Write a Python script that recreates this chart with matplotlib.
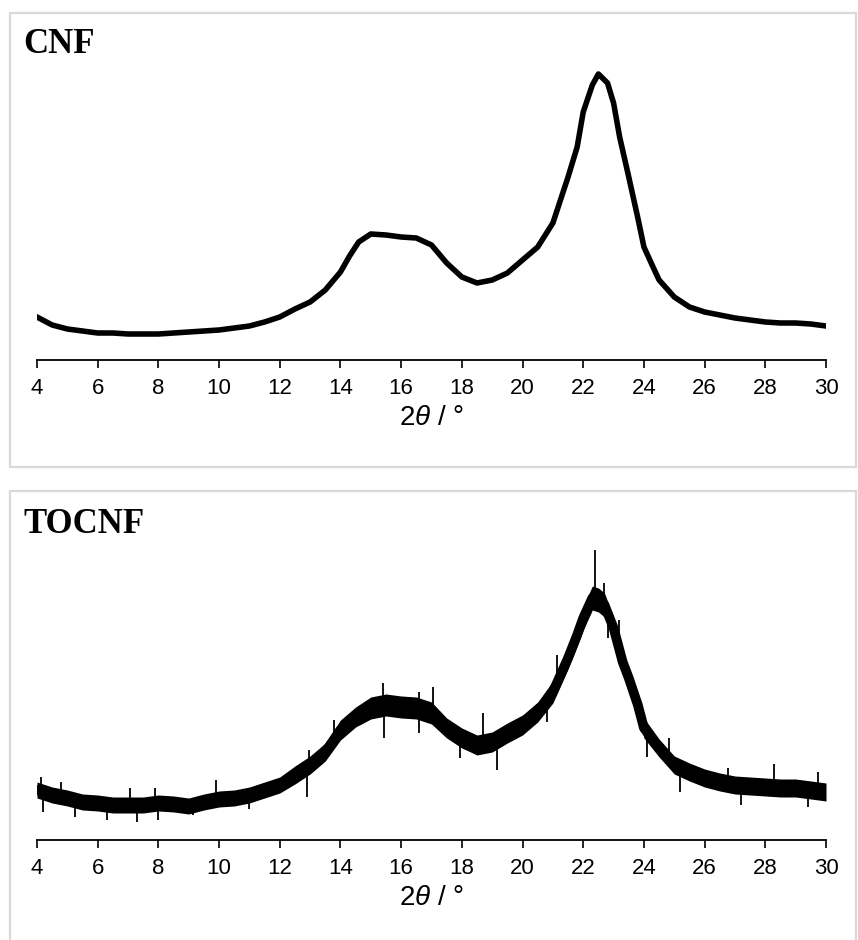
import matplotlib
matplotlib.use("Agg")
import matplotlib.pyplot as plt
from matplotlib.patches import Rectangle
import numpy as np

plt.rcParams['font.family'] = ['Liberation Sans', 'DejaVu Sans']
plt.rcParams['mathtext.fontset'] = 'custom'
plt.rcParams['mathtext.rm'] = 'Liberation Sans'
plt.rcParams['mathtext.it'] = 'Liberation Sans:italic'

# CNF pattern (intensity, arbitrary units)
cnf_2theta = [4, 4.5, 5, 5.5, 6, 6.5, 7, 7.5, 8, 8.5, 9, 9.5, 10, 10.5, 11, 11.5,
              12, 12.5, 13, 13.5, 14, 14.3, 14.6, 15, 15.5, 16, 16.5, 17, 17.5, 18, 18.5,
              19, 19.5, 20, 20.5, 21, 21.5, 21.8, 22, 22.3, 22.5, 22.8, 23, 23.2,
              23.5, 23.8, 24, 24.3, 24.5, 25, 25.5, 26, 26.5, 27, 27.5, 28, 28.5,
              29, 29.5, 30]
cnf_int = [43, 35, 31, 29, 27, 27, 26, 26, 26, 27, 28, 29, 30, 32, 34, 38,
           43, 51, 58, 70, 88, 104, 118, 126, 125, 123, 122, 115, 97, 83, 77,
           80, 87, 100, 113, 137, 183, 213, 248, 275, 286, 277, 257, 223,
           183, 142, 113, 93, 80, 63, 53, 48, 45, 42, 40, 38, 37,
           37, 36, 34]

# TOCNF pattern
tocnf_2theta = [4, 4.5, 5, 5.5, 6, 6.5, 7, 7.5, 8, 8.5, 9, 9.5, 10, 10.5, 11, 11.5,
                12, 12.5, 13, 13.5, 14, 14.5, 15, 15.5, 16, 16.5, 17, 17.5, 18, 18.5,
                19, 19.5, 20, 20.5, 21, 21.5, 21.8, 22, 22.3, 22.5, 22.7, 23, 23.3,
                23.5, 23.8, 24, 24.5, 25, 25.5, 26, 26.5, 27, 27.5, 28, 28.5, 29,
                29.5, 30]
tocnf_int = [50, 45, 42, 38, 37, 35, 35, 35, 37, 36, 34, 38, 41, 42, 45, 50,
             55, 65, 75, 88, 110, 123, 132, 135, 133, 132, 127, 112, 102, 95,
             98, 107, 115, 128, 148, 182, 205, 222, 242, 240, 235, 212, 178,
             162, 135, 112, 92, 75, 68, 62, 58, 55, 54, 53, 52, 52,
             50, 48]
# half thickness of the noisy TOCNF trace
tocnf_noise = [8, 8, 8, 8, 8, 8, 8, 8, 8, 8, 8, 8, 8, 8, 8, 8,
               8, 9, 9, 9, 10, 10, 11, 11, 11, 11, 11, 10, 10, 10,
               10, 10, 10, 10, 11, 11, 11, 12, 12, 12, 12, 11, 11,
               11, 10, 10, 9, 9, 9, 9, 9, 9, 9, 9, 9, 9,
               9, 9]
# tips of single spikes that stand out of the TOCNF band
tocnf_spike_x = [4.14, 4.8, 7.05, 7.9, 9.9, 12.97, 13.8, 15.4, 16.6, 17.05,
                 18.7, 21.14, 22.4, 22.69, 23.18, 24.84, 26.77, 28.3, 29.74,
                 4.2, 5.24, 6.3, 7.3, 8.0, 9.15, 11.0, 12.9, 15.45, 16.6,
                 17.95, 19.16, 20.8, 22.8, 24.1, 25.2, 27.2, 29.4]
tocnf_spike_y = [63, 58, 52, 52, 60, 90, 120, 157, 148, 153,
                 127, 185, 290, 257, 220, 102, 72, 76, 68,
                 28, 23, 20, 18, 20, 25, 31, 43, 102, 107,
                 82, 70, 118, 202, 83, 48, 35, 33]

xticks = [4, 6, 8, 10, 12, 14, 16, 18, 20, 22, 24, 26, 28, 30]

W, H = 858, 940
fig = plt.figure(figsize=(W / 100, H / 100), dpi=100)

# light grey frames around each panel
fig.add_artist(Rectangle((10 / W, 1 - 467 / H), 846 / W, 454 / H,
                         transform=fig.transFigure, fill=False,
                         edgecolor='#d9d9d9', lw=1.6))
fig.add_artist(Rectangle((10 / W, -0.02), 846 / W, (H - 491) / H + 0.02,
                         transform=fig.transFigure, fill=False,
                         edgecolor='#d9d9d9', lw=1.6))

ax1 = fig.add_axes([37 / W, 1 - 360 / H, 789 / W, 320 / H])
ax2 = fig.add_axes([37 / W, 1 - 840 / H, 789 / W, 320 / H])

# CNF: thick line gives the width of the noisy trace
ax1.plot(cnf_2theta, cnf_int, color='black', lw=4.0, solid_joinstyle='round')

# TOCNF: noisy band plus spikes
x2 = np.array(tocnf_2theta)
y2 = np.array(tocnf_int)
n2 = np.array(tocnf_noise)
ax2.fill_between(x2, y2 - n2, y2 + n2, color='black', lw=0)
ax2.plot(x2, y2, color='black', lw=7, solid_joinstyle='round')
base = np.interp(tocnf_spike_x, tocnf_2theta, tocnf_int)
ax2.vlines(tocnf_spike_x, base, tocnf_spike_y, color='black', lw=1.3)

for ax, name, base_y in [(ax1, 'CNF', 53), (ax2, 'TOCNF', 533)]:
    ax.set_xlim(4, 30)
    ax.set_ylim(0, 320)
    for s in ['top', 'right', 'left']:
        ax.spines[s].set_visible(False)
    ax.spines['bottom'].set_linewidth(1.3)
    ax.set_yticks([])
    ax.set_xticks(xticks)
    ax.tick_params(axis='x', direction='out', length=6, width=1.2,
                   labelsize=16, pad=7)
    ax.set_xlabel(r'$\mathit{2\theta}$ / °', fontsize=20, labelpad=4)
    fig.text(23 / W, 1 - base_y / H, name, fontfamily='Liberation Serif',
             fontweight='bold', fontsize=25, va='baseline')

fig.savefig('out.png', dpi=100)
